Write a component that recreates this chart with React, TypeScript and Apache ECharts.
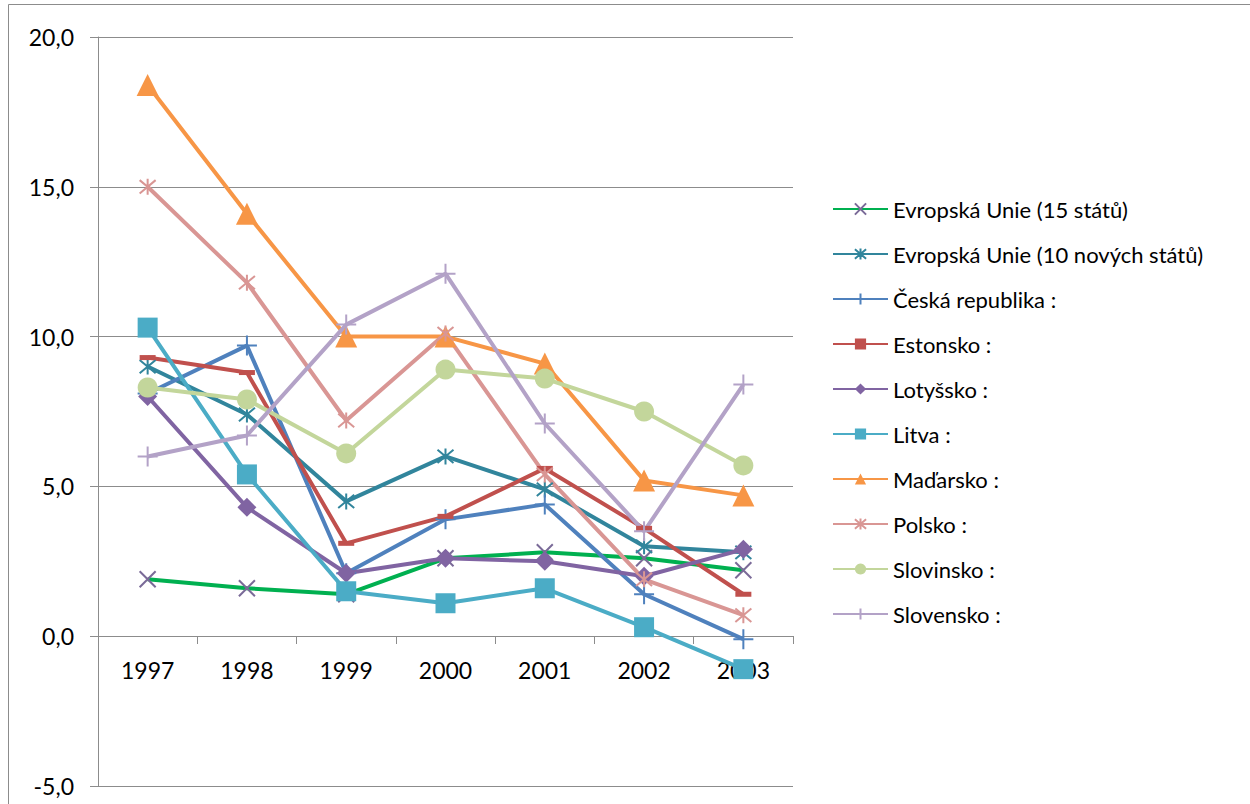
import React, { useEffect, useRef } from "react";
import * as echarts from "echarts";

const years = ["1997", "1998", "1999", "2000", "2001", "2002", "2003"];

const eu15 = [1.9, 1.6, 1.4, 2.6, 2.8, 2.6, 2.2];
const eu10 = [9.0, 7.4, 4.5, 6.0, 4.9, 3.0, 2.8];
const czech = [8.1, 9.7, 2.1, 3.9, 4.4, 1.4, -0.1];
const estonia = [9.3, 8.8, 3.1, 4.0, 5.6, 3.6, 1.4];
const latvia = [8.0, 4.3, 2.1, 2.6, 2.5, 2.0, 2.9];
const lithuania = [10.3, 5.4, 1.5, 1.1, 1.6, 0.3, -1.1];
const hungary = [18.4, 14.1, 10.0, 10.0, 9.1, 5.2, 4.7];
const poland = [15.0, 11.8, 7.2, 10.1, 5.4, 1.9, 0.7];
const slovenia = [8.3, 7.9, 6.1, 8.9, 8.6, 7.5, 5.7];
const slovakia = [6.0, 6.7, 10.4, 12.1, 7.1, 3.5, 8.4];

const seriesNames = [
  "Evropská Unie (15 států)",
  "Evropská Unie (10 nových států)",
  "Česká republika :",
  "Estonsko :",
  "Lotyšsko :",
  "Litva :",
  "Maďarsko :",
  "Polsko :",
  "Slovinsko :",
  "Slovensko :",
];

const X_SYM = "path://M0,0L10,10M10,0L0,10";
const STAR_SYM = "path://M0,0L10,10M10,0L0,10M5,-1L5,11";
const PLUS_SYM = "path://M5,0L5,10M0,5L10,5";

export default function App() {
  const ref = useRef<HTMLDivElement>(null);
  useEffect(() => {
    if (!ref.current) return;
    const chart = echarts.init(ref.current, undefined, { renderer: "svg" });
    const font = "Lato";
    const mk = (
      name: string,
      data: number[],
      lineColor: string,
      symbol: string,
      symbolSize: number | number[],
      markColor: string,
      stroke: boolean
    ) => ({
      name,
      type: "line",
      data,
      symbol,
      symbolSize,
      showSymbol: true,
      lineStyle: { color: lineColor, width: 4 },
      itemStyle: stroke
        ? { color: "rgba(0,0,0,0)", borderColor: markColor, borderWidth: 2 }
        : { color: markColor, borderWidth: 0 },
      emphasis: { disabled: true },
    });
    const data = [eu15, eu10, czech, estonia, latvia, lithuania, hungary, poland, slovenia, slovakia];
    const series = [
      mk(seriesNames[0], data[0], "#00B050", X_SYM, 16, "#7A6A98", true),
      mk(seriesNames[1], data[1], "#31859C", STAR_SYM, 16, "#31859C", true),
      mk(seriesNames[2], data[2], "#4F81BD", PLUS_SYM, 20, "#4F81BD", true),
      mk(seriesNames[3], data[3], "#C0504D", "rect", [16, 5], "#C0504D", false),
      mk(seriesNames[4], data[4], "#8064A2", "diamond", 19, "#8064A2", false),
      mk(seriesNames[5], data[5], "#4BACC6", "rect", 20, "#4BACC6", false),
      mk(seriesNames[6], data[6], "#F79646", "triangle", 22, "#F79646", false),
      mk(seriesNames[7], data[7], "#D99694", STAR_SYM, 16, "#D99694", true),
      mk(seriesNames[8], data[8], "#C3D69B", "circle", 20, "#C3D69B", false),
      mk(seriesNames[9], data[9], "#B3A2C7", PLUS_SYM, 20, "#B3A2C7", true),
    ];
    chart.setOption({
      animation: false,
      textStyle: { fontFamily: font },
      graphic: [
        {
          type: "rect",
          shape: { x: 8.5, y: 4.5, width: 1260, height: 820 },
          style: { fill: "none", stroke: "#8c8c8c", lineWidth: 1 },
          silent: true,
        },
      ],
      grid: { left: 98, right: 457, top: 37, bottom: 18, containLabel: false, outerBoundsMode: "none" },
      legend: {
        orient: "vertical",
        left: 827,
        top: 193,
        itemWidth: 55,
        itemHeight: 14,
        itemGap: 23,
        textStyle: { fontFamily: font, fontSize: 22, color: "#000", lineHeight: 20 },
        data: seriesNames,
        selectedMode: false,
      },
      xAxis: {
        type: "category",
        data: years,
        boundaryGap: true,
        position: "bottom",
        offset: -150,
        axisLine: { onZero: false, lineStyle: { color: "#8c8c8c", width: 1 } },
        axisTick: { show: true, length: 8, lineStyle: { color: "#8c8c8c" } },
        axisLabel: { fontFamily: font, fontSize: 23, color: "#000", margin: 22 },
      },
      yAxis: {
        type: "value",
        min: -5,
        max: 20,
        interval: 5,
        axisLine: { show: true, lineStyle: { color: "#8c8c8c", width: 1 } },
        axisTick: { show: true, length: 8, lineStyle: { color: "#8c8c8c" } },
        splitLine: { show: true, lineStyle: { color: "#8c8c8c", width: 1 } },
        axisLabel: {
          fontFamily: font,
          fontSize: 23,
          color: "#000",
          margin: 24,
          formatter: (v: number) => v.toFixed(1).replace(".", ","),
        },
      },
      series,
    });
    return () => chart.dispose();
  }, []);
  return (
    <div
      ref={ref}
      style={{ position: "fixed", left: 0, top: 0, width: 1250, height: 804, background: "#fff" }}
    />
  );
}
